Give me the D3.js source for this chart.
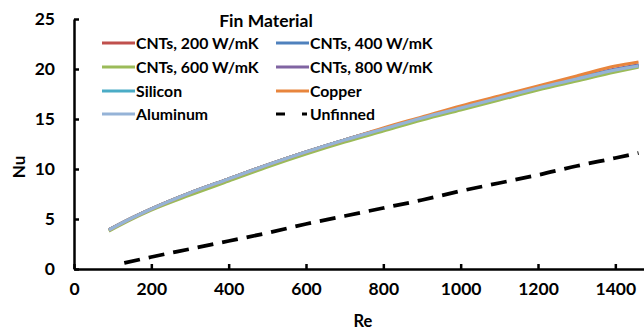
<!DOCTYPE html>
<html><head><meta charset="utf-8">
<script src="https://cdn.jsdelivr.net/npm/d3@7"></script>
<style>body{margin:0;background:#fff}svg{display:block}text{font-family:Lato,"Open Sans",sans-serif;font-weight:bold;fill:#000}</style>
</head><body><svg id="c" width="644" height="332"></svg>
<script>
const reFin = [90,150,200,300,400,500,600,700,800,900,1000,1100,1200,1300,1400,1460];
const nuCnt200 = [3.9,5.1,6.0,7.6,9.0,10.4,11.7,12.9,14.0,15.1,16.1,17.1,18.1,19.0,19.9,20.3];
const nuCnt400 = [3.9,5.1,6.0,7.6,9.0,10.4,11.7,12.9,14.0,15.1,16.1,17.1,18.1,19.0,19.9,20.4];
const nuCnt600 = [3.8,5.0,5.9,7.4,8.8,10.2,11.5,12.7,13.8,14.9,15.9,16.9,17.9,18.8,19.7,20.2];
const nuCnt800 = [3.9,5.1,6.0,7.6,9.0,10.4,11.7,12.9,14.0,15.1,16.1,17.1,18.1,19.1,20.0,20.4];
const nuSilicon = [3.9,5.1,6.0,7.6,9.0,10.4,11.7,12.9,14.0,15.1,16.1,17.1,18.1,19.0,19.9,20.3];
const nuCopper = [3.9,5.1,6.0,7.6,9.0,10.4,11.7,12.9,14.1,15.2,16.3,17.3,18.3,19.3,20.3,20.7];
const nuAluminum = [3.9,5.1,6.0,7.6,9.0,10.4,11.7,12.9,14.0,15.1,16.1,17.1,18.1,19.0,19.9,20.3];
const reUnfinned = [130,200,300,400,500,600,700,800,900,1000,1100,1200,1300,1400,1460];
const nuUnfinned = [0.6,1.2,2.0,2.8,3.6,4.5,5.3,6.1,6.9,7.8,8.6,9.4,10.3,11.1,11.6];
const seriesNames = ["CNTs, 200 W/mK","CNTs, 400 W/mK","CNTs, 600 W/mK","CNTs, 800 W/mK","Silicon","Copper","Aluminum","Unfinned"];
const seriesColors = ["#C0504D","#4F81BD","#9BBB59","#8064A2","#4BACC6","#E8853D","#95B3D7","#000000"];
const xTicks = [0,200,400,600,800,1000,1200,1400];
const yTicks = [0,5,10,15,20,25];

const svg = d3.select("#c");
const x = d3.scaleLinear().domain([0,1500]).range([74,654]);
const y = d3.scaleLinear().domain([0,25]).range([269,19]);

const finData = [nuCnt200,nuCnt400,nuCnt600,nuCnt800,nuSilicon,nuCopper,nuAluminum];
const series = finData.map((v,i)=>({name:seriesNames[i],color:seriesColors[i],pts:reFin.map((r,j)=>[r,v[j]]),dash:null}));
series.push({name:seriesNames[7],color:seriesColors[7],pts:reUnfinned.map((r,j)=>[r,nuUnfinned[j]]),dash:"16,9"});

const line = d3.line().x(d=>x(d[0])).y(d=>y(d[1])).curve(d3.curveMonotoneX);
const order = [0,1,3,4,2,5,6,7];
order.forEach(i=>{
  const s = series[i];
  svg.append("path").attr("d",line(s.pts)).attr("fill","none")
    .attr("stroke",s.color).attr("stroke-width", i===7?3.8:3.2)
    .attr("stroke-dasharray",s.dash);
});

const xAxis = svg.append("g").attr("transform","translate(0,269)")
  .call(d3.axisBottom(x).tickValues(xTicks).tickFormat(d3.format("d")).tickSizeInner(-5).tickSizeOuter(0).tickPadding(14));
const yAxis = svg.append("g").attr("transform","translate(74,0)")
  .call(d3.axisLeft(y).tickValues(yTicks).tickFormat(d3.format("d")).tickSizeInner(-5).tickSizeOuter(0).tickPadding(19));
[xAxis,yAxis].forEach(g=>{
  g.select(".domain").attr("stroke","#000").attr("stroke-width",2.5);
  g.selectAll(".tick line").attr("stroke","#000").attr("stroke-width",2.5);
  g.selectAll(".tick text").attr("font-size",17.5).attr("font-family","Lato").attr("font-weight","bold").attr("fill","#000");
});
xAxis.selectAll(".tick text").attr("dy","0.71em");

svg.append("text").attr("x",363).attr("y",327).attr("text-anchor","middle").attr("font-size",16.5).text("Re");
svg.append("text").attr("transform","translate(25,167) rotate(-90)").attr("text-anchor","middle").attr("font-size",17).text("Nu");

svg.append("text").attr("x",266).attr("y",27).attr("text-anchor","middle").attr("font-size",17.5).text("Fin Material");
const colX = [102,276], rowY = [43,67,91,114];
series.forEach((s,i)=>{
  const cx = colX[i%2], cy = rowY[Math.floor(i/2)];
  svg.append("line").attr("x1",cx).attr("x2",cx+33).attr("y1",cy).attr("y2",cy)
    .attr("stroke",s.color).attr("stroke-width",3.2).attr("stroke-dasharray",s.dash?"9,17,5":null);
  svg.append("text").attr("x",cx+34).attr("y",cy).attr("dy","0.36em").attr("font-size",15.8).text(s.name);
});
</script></body></html>
